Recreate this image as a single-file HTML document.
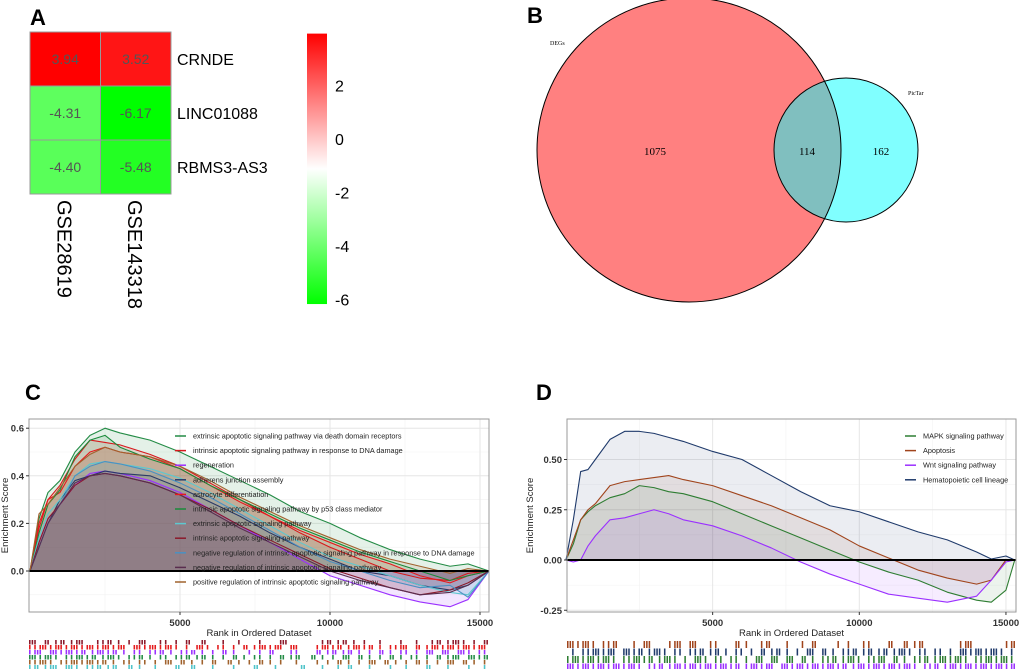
<!DOCTYPE html>
<html><head><meta charset="utf-8"><style>
body{margin:0;background:#fff;}
svg{display:block;font-family:"Liberation Sans",Arial,sans-serif;}
</style></head><body>
<svg id="fig" width="1020" height="669" viewBox="0 0 1020 669">
<g id="pa"></g>
<g id="pb"></g>
<g id="pc"></g>
<g id="pd"></g>
</svg>
<script>
// ---------- Panel A data ----------
const heatRows = ["CRNDE","LINC01088","RBMS3-AS3"];
const heatCols = ["GSE28619","GSE143318"];
const heatVals = [[3.94,3.52],[-4.31,-6.17],[-4.40,-5.48]];
const cbTicks = [2,0,-2,-4,-6];
// ---------- Panel B data ----------
const vennSets = ["DEGs","PicTar"];
const vennCounts = [1075,114,162];
// ---------- Panel C data ----------
const cRanks = [0,300,600,1000,1500,2000,2500,3000,4000,5000,6000,7000,8000,9000,10000,11000,12000,13000,14000,14600,15300];
const cNames = ["extrinsic apoptotic signaling pathway via death domain receptors","intrinsic apoptotic signaling pathway in response to DNA damage","regeneration","adherens junction assembly","astrocyte differentiation","intrinsic apoptotic signaling pathway by p53 class mediator","extrinsic apoptotic signaling pathway","intrinsic apoptotic signaling pathway","negative regulation of intrinsic apoptotic signaling pathway in response to DNA damage","negative regulation of intrinsic apoptotic signaling pathway","positive regulation of intrinsic apoptotic signaling pathway"];
const cColors = ["#238b45","#d7191c","#9b30ff","#2b3a67","#e41a1c","#1a8a3a","#5cc8d0","#8b1a2b","#4a90c2","#5a2d4f","#a0622d"];
const cS1 = [0,0.22,0.33,0.38,0.50,0.57,0.60,0.58,0.55,0.50,0.44,0.38,0.32,0.25,0.20,0.14,0.09,0.05,0.02,0.03,0];
const cS2 = [0,0.18,0.30,0.36,0.47,0.55,0.54,0.53,0.49,0.44,0.37,0.30,0.23,0.16,0.10,0.05,0.00,-0.03,-0.04,-0.01,0];
const cS3 = [0,0.12,0.22,0.28,0.36,0.41,0.42,0.41,0.38,0.33,0.26,0.19,0.12,0.05,-0.02,-0.06,-0.10,-0.13,-0.15,-0.12,0];
const cS4 = [0,0.10,0.20,0.30,0.38,0.40,0.42,0.41,0.40,0.35,0.29,0.23,0.16,0.10,0.05,0.00,-0.02,-0.06,-0.08,-0.06,0];
const cS5 = [0,0.20,0.30,0.33,0.44,0.50,0.52,0.50,0.48,0.43,0.36,0.29,0.23,0.17,0.12,0.07,0.03,-0.02,-0.05,-0.02,0];
const cS6 = [0,0.16,0.28,0.34,0.48,0.55,0.57,0.52,0.47,0.43,0.36,0.30,0.24,0.18,0.13,0.08,0.04,0.00,-0.04,-0.02,0];
const cS7 = [0,0.14,0.24,0.30,0.40,0.45,0.46,0.45,0.43,0.39,0.33,0.26,0.19,0.12,0.06,0.02,-0.02,-0.06,-0.09,-0.10,0];
const cS8 = [0,0.12,0.22,0.28,0.36,0.40,0.41,0.40,0.37,0.32,0.26,0.19,0.13,0.07,0.01,-0.03,-0.07,-0.10,-0.08,-0.05,0];
const cS9 = [0,0.10,0.20,0.28,0.40,0.44,0.46,0.45,0.42,0.37,0.31,0.24,0.17,0.10,0.04,0.00,-0.04,-0.07,-0.06,-0.11,0];
const cS10 = [0,0.10,0.20,0.28,0.37,0.40,0.41,0.40,0.37,0.32,0.25,0.18,0.12,0.06,0.00,-0.04,-0.07,-0.10,-0.09,-0.06,0];
const cS11 = [0,0.24,0.28,0.35,0.44,0.49,0.52,0.50,0.48,0.44,0.38,0.31,0.25,0.19,0.14,0.09,0.05,0.02,-0.01,0.01,0];
const cYTicks = [0.0,0.2,0.4,0.6];
const xTicks = [5000,10000,15000];
const cRug = [
"1101011011100111010101100110101001000100100010001100000011011010100100010010011011110101",
"1111111111111111111011111111101011101101010111111011000111110111110101111010111111111111",
"1110111111101111101011011101011101010101001010100011000101101101010101011010110110111011",
"1111110111111011110111010110111011010101010110101011001010101101010101010110101011101111",
"1111101111111110101101101011010101010010101010101001000101010101011010101010101011010101",
"1101110111011101100101001000100100010001000100010000100010010100010001001000100010001001"];
const cRugColors = ["#8b1a2b","#e41a1c","#9b30ff","#238b45","#a0622d","#4ec3c9"];
// ---------- Panel D data ----------
const dRanks = [0,250,500,750,1000,1500,2000,2500,3000,3500,4000,5000,6000,7000,8000,9000,10000,11000,12000,13000,14000,14500,15000,15300];
const dNames = ["MAPK signaling pathway","Apoptosis","Wnt signaling pathway","Hematopoietic cell lineage"];
const dColors = ["#2e7d32","#a0441c","#9b30ff","#1f3a6b"];
const dMAPK = [0,0.08,0.20,0.24,0.27,0.31,0.33,0.37,0.36,0.34,0.33,0.29,0.23,0.17,0.11,0.05,-0.01,-0.06,-0.10,-0.16,-0.20,-0.21,-0.15,0];
const dApop = [0,0.10,0.20,0.25,0.28,0.37,0.39,0.40,0.41,0.42,0.40,0.37,0.32,0.27,0.21,0.15,0.07,0.01,-0.05,-0.09,-0.12,-0.10,0.0,0];
const dWnt = [0,-0.01,0.0,0.07,0.12,0.20,0.21,0.23,0.25,0.23,0.20,0.17,0.12,0.06,-0.01,-0.07,-0.12,-0.17,-0.19,-0.21,-0.18,-0.10,-0.01,0];
const dHema = [0,0.20,0.44,0.45,0.50,0.60,0.64,0.64,0.63,0.61,0.59,0.54,0.50,0.42,0.34,0.27,0.24,0.19,0.14,0.10,0.04,0.005,0.02,0];
const dYTicks = [-0.25,0.00,0.25,0.50];
const dRug = [
"1111110111000101100011101100110001010011000100101000010100110001001011000000011100000011",
"0101111111011110111101101110110101101010110101011010101110110110111101101101011111111101",
"1111111111011111101111010111011011010110110110101011101111011110101011101111111011111111",
"1111111111111110111011111111111111011111101111111111111011111111111110111011111111111111"];
const dRugColors = ["#a0441c","#1f3a6b","#2e7d32","#9b30ff"];

const NS="http://www.w3.org/2000/svg";
function mk(parent,tag,attrs,text){const e=document.createElementNS(NS,tag);for(const k in attrs)e.setAttribute(k,attrs[k]);if(text!==undefined)e.textContent=text;parent.appendChild(e);return e;}

// ---------- Panel A ----------
const pa=document.getElementById('pa');
let t=mk(pa,'text',{x:30,y:25,'font-size':22,'font-weight':'bold'},'A');


function heatColor(v){const mid=-1.1,mx=3.94,mn=-6.17;
 if(v>=mid){const f=(v-mid)/(mx-mid);const g=Math.round(255*(1-f));return `rgb(255,${g},${g})`;}
 const f=(mid-v)/(mid-mn);const g=Math.round(255*(1-f));return `rgb(${g},255,${g})`;}
const cellW=70.5,cellH=54,hx0=30,hy0=32;
heatVals.forEach((row,i)=>row.forEach((v,j)=>{
 const r=mk(pa,'rect',{x:hx0+j*cellW,y:hy0+i*cellH,width:cellW,height:cellH,fill:heatColor(v),stroke:'#999','stroke-width':1});
 
 
 const tx=mk(pa,'text',{x:hx0+j*cellW+cellW/2,y:hy0+i*cellH+cellH/2+5,'font-size':14,fill:'#555','text-anchor':'middle'},v.toFixed(2));
 
 
}));
heatRows.forEach((n,i)=>{const tx=mk(pa,'text',{x:177,y:hy0+i*cellH+cellH/2+6,'font-size':16},n);
 
 });
heatCols.forEach((n,j)=>{const cx=hx0+j*cellW+cellW/2-8;const tx=mk(pa,'text',{x:0,y:0,'font-size':20,transform:`translate(${cx},200) rotate(90)`},n);
 
 });
const defs=mk(document.getElementById('fig'),'defs',{});
const lg=mk(defs,'linearGradient',{id:'cbg',x1:0,y1:0,x2:0,y2:1});
for(let k=0;k<=20;k++){const v=3.94-(3.94+6.17)*k/20;mk(lg,'stop',{offset:(k/20),'stop-color':heatColor(v)});}
const cbY=v=>139-26.75*v;
const cb=mk(pa,'rect',{x:307,y:cbY(3.94),width:20,height:cbY(-6.17)-cbY(3.94),fill:'url(#cbg)'});


cbTicks.forEach(v=>{const tx=mk(pa,'text',{x:335,y:cbY(v)+6,'font-size':16},String(v));
 
 });

// ---------- Panel B ----------
const pb=document.getElementById('pb');
t=mk(pb,'text',{x:527,y:23,'font-size':22,'font-weight':'bold'},'B');


let c=mk(pb,'circle',{cx:689,cy:150,r:152,fill:'#ff8080'});


c=mk(pb,'circle',{cx:846,cy:150,r:72,fill:'#80ffff'});


const cp=mk(defs,'clipPath',{id:'bigc'});
mk(cp,'circle',{cx:689,cy:150,r:152});
c=mk(pb,'circle',{cx:846,cy:150,r:72,fill:'#80bfbf','clip-path':'url(#bigc)'});


mk(pb,'circle',{cx:689,cy:150,r:152,fill:'none',stroke:'#000','stroke-width':1});
mk(pb,'circle',{cx:846,cy:150,r:72,fill:'none',stroke:'#000','stroke-width':1});
const vpos=[[655,155],[807,155],[881,155]];
vennCounts.forEach((n,i)=>{const tx=mk(pb,'text',{x:vpos[i][0],y:vpos[i][1],'font-size':11,'font-family':'Liberation Serif, serif','text-anchor':'middle'},n);
 
 });
t=mk(pb,'text',{x:550,y:45,'font-size':6,'font-family':'Liberation Serif, serif'},vennSets[0]);


t=mk(pb,'text',{x:908,y:95,'font-size':6,'font-family':'Liberation Serif, serif'},vennSets[1]);



// ---------- GSEA generic ----------
function gsea(g,cfg){
 const {x0,x1,y0,y1,xs,ys,yTicks,yFmt,ranks,series,colors,names,leg,rug,rugColors,rugY,rugH,letter,letterX,ylabX,fillOp}=cfg;
 t=mk(g,'text',{x:letterX,y:y0-19,'font-size':22,'font-weight':'bold'},letter);
 
 
 const yMinor=[];for(let i=0;i<yTicks.length-1;i++)yMinor.push((yTicks[i]+yTicks[i+1])/2);
 yMinor.concat([yTicks[0]-(yTicks[1]-yTicks[0])/2]).forEach(v=>{const yy=ys(v);if(yy>y0&&yy<y1)mk(g,'line',{x1:x0,x2:x1,y1:yy,y2:yy,stroke:'#f2f2f2','stroke-width':0.6});});
 [2500,7500,12500].forEach(v=>mk(g,'line',{x1:xs(v),x2:xs(v),y1:y0,y2:y1,stroke:'#f2f2f2','stroke-width':0.6}));
 yTicks.forEach(v=>mk(g,'line',{x1:x0,x2:x1,y1:ys(v),y2:ys(v),stroke:'#e6e6e6','stroke-width':1}));
 xTicks.forEach(v=>mk(g,'line',{x1:xs(v),x2:xs(v),y1:y0,y2:y1,stroke:'#e6e6e6','stroke-width':1}));
 series.forEach((s,k)=>{
  let d=`M${xs(ranks[0])},${ys(0)}`;s.forEach((v,i)=>d+=`L${xs(ranks[i])},${ys(v)}`);d+=`L${xs(ranks[ranks.length-1])},${ys(0)}Z`;
  const p=mk(g,'path',{d,fill:colors[k],'fill-opacity':fillOp,stroke:'none'});
  
  
 });
 series.forEach((s,k)=>{
  let d='';s.forEach((v,i)=>{d+=(i?'L':'M')+xs(ranks[i])+','+ys(v);});
  const p=mk(g,'path',{d,fill:'none',stroke:colors[k],'stroke-width':1.1,'stroke-linejoin':'round'});
  
  
 });
 mk(g,'line',{x1:x0,x2:x1,y1:ys(0),y2:ys(0),stroke:'#000','stroke-width':2});
 const fr=mk(g,'rect',{x:x0,y:y0,width:x1-x0,height:y1-y0,fill:'none',stroke:'#999','stroke-width':1});
 
 
 yTicks.forEach(v=>{mk(g,'line',{x1:x0-3,x2:x0,y1:ys(v),y2:ys(v),stroke:'#333'});
  const tx=mk(g,'text',{x:x0-5,y:ys(v)+3.5,'font-size':9.5,fill:'#333','text-anchor':'end','font-weight':'bold'},yFmt(v));
  
  });
 xTicks.forEach(v=>{mk(g,'line',{x1:xs(v),x2:xs(v),y1:y1,y2:y1+3,stroke:'#333'});
  const tx=mk(g,'text',{x:xs(v),y:y1+14,'font-size':9.5,fill:'#333','text-anchor':'middle','font-weight':'bold'},String(v));
  
  });
 t=mk(g,'text',{x:(x0+x1)/2,y:y1+24,'font-size':9.5,fill:'#222','text-anchor':'middle'},'Rank in Ordered Dataset');
 
 
 t=mk(g,'text',{x:0,y:0,'font-size':9.5,fill:'#222','text-anchor':'middle',transform:`translate(${ylabX},${(y0+y1)/2}) rotate(-90)`},'Enrichment Score');
 
 
 names.forEach((n,k)=>{const yy=leg.y+k*leg.dy;
  mk(g,'line',{x1:leg.x,x2:leg.x+11,y1:yy,y2:yy,stroke:colors[k],'stroke-width':1.5});
  const tx=mk(g,'text',{x:leg.x+18,y:yy+2.5,'font-size':leg.fs,fill:'#222'},n);
  
  });
 rug.forEach((str,r)=>{const bw=(x1-x0)/str.length;
  for(let i=0;i<str.length;i++){if(str[i]!=='1')continue;
   const nt=(r+i)%3===0?2:1;
   for(let q=0;q<nt;q++){const ln=mk(g,'rect',{x:x0+i*bw+q*bw*0.5,y:rugY+r*rugH,width:Math.max(1,bw*0.3),height:rugH-0.5,fill:rugColors[r]});
    
    }}});
}
gsea(document.getElementById('pc'),{x0:29,x1:489,y0:419,y1:612,xs:v=>30+v*0.03,ys:v=>571-v*238,yTicks:cYTicks,yFmt:v=>v.toFixed(1),
 ranks:cRanks,series:[cS1,cS2,cS3,cS4,cS5,cS6,cS7,cS8,cS9,cS10,cS11],colors:cColors,names:cNames,fillOp:0.12,
 leg:{x:175,y:436,dy:14.6,fs:7.3},rug:cRug,rugColors:cRugColors,rugY:640,rugH:5,letter:'C',letterX:25,ylabX:8});
gsea(document.getElementById('pd'),{x0:567,x1:1016,y0:419,y1:612,xs:v=>566+v*0.02933,ys:v=>560-v*201,yTicks:dYTicks,yFmt:v=>v.toFixed(2),
 ranks:dRanks,series:[dMAPK,dApop,dWnt,dHema],colors:dColors,names:dNames,fillOp:0.09,
 leg:{x:905,y:436,dy:14.6,fs:7.3},rug:dRug,rugColors:dRugColors,rugY:641,rugH:7.5,letter:'D',letterX:536,ylabX:533});
</script>
</body></html>
